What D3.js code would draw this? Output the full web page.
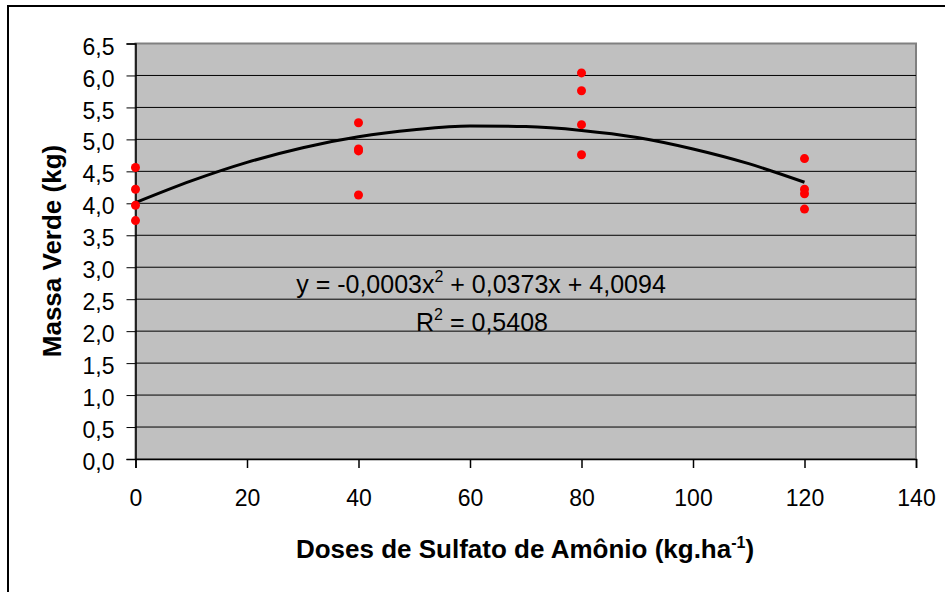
<!DOCTYPE html>
<html>
<head>
<meta charset="utf-8">
<script src="https://cdn.jsdelivr.net/npm/d3@7"></script>
<style>
  body { margin: 0; background: #fff; }
  text { font-family: "Liberation Sans", Arial, sans-serif; }
</style>
</head>
<body>
<svg id="chart" width="945" height="592"></svg>
<script>
// dados observados (doses x massa verde)
const doses = [0, 0, 0, 0, 40, 40, 40, 40, 80, 80, 80, 80, 120, 120, 120, 120];
const massa = [4.56, 4.22, 3.97, 3.73, 5.26, 4.85, 4.82, 4.13, 6.04, 5.76, 5.23, 4.76, 4.70, 4.22, 4.15, 3.91];

// linha de tendência
const trendX = [0, 10, 20, 30, 40, 50, 60, 70, 80, 90, 100, 110, 120];
const trendY = [4.01, 4.35, 4.64, 4.87, 5.04, 5.15, 5.21, 5.20, 5.14, 5.03, 4.85, 4.62, 4.33];

const xTicks = [0, 20, 40, 60, 80, 100, 120, 140];
const yTicks = [0, 0.5, 1, 1.5, 2, 2.5, 3, 3.5, 4, 4.5, 5, 5.5, 6, 6.5];

const svg = d3.select("#chart");
const fmt = d => d.toFixed(1).replace(".", ",");

const pLeft = 135.5, pRight = 916, pTop = 43.5, pBottom = 459;
const x = d3.scaleLinear().domain([0, 140]).range([pLeft, pRight]);
const y = d3.scaleLinear().domain([0, 6.5]).range([pBottom, pTop]);

// moldura externa
svg.append("rect")
    .attr("x", 8).attr("y", 6)
    .attr("width", 960).attr("height", 620)
    .attr("fill", "#fff")
    .attr("stroke", "#000")
    .attr("stroke-width", 2);

// área do gráfico
svg.append("rect")
    .attr("x", pLeft).attr("y", pTop)
    .attr("width", pRight - pLeft).attr("height", pBottom - pTop)
    .attr("fill", "#c0c0c0")
    .attr("stroke", "#808080")
    .attr("stroke-width", 2);

// grade
svg.append("g").selectAll("line")
    .data(yTicks.filter(d => d > 0 && d < 6.5))
    .enter().append("line")
    .attr("x1", pLeft).attr("x2", pRight)
    .attr("y1", d => y(d)).attr("y2", d => y(d))
    .attr("stroke", "#000").attr("stroke-width", 1);

// eixo y
const yAxis = svg.append("g")
    .attr("transform", `translate(${pLeft},0)`)
    .call(d3.axisLeft(y).tickValues(yTicks).tickFormat(fmt).tickSize(9).tickPadding(12));
yAxis.select(".domain").attr("stroke", "#000").attr("stroke-width", 1.5);
yAxis.selectAll("text").attr("font-size", 23).attr("fill", "#000").attr("dy", "0.46em");

// eixo x
const xAxis = svg.append("g")
    .attr("transform", `translate(0,${pBottom})`)
    .call(d3.axisBottom(x).tickValues(xTicks).tickSize(9).tickPadding(22));
xAxis.select(".domain").attr("stroke", "#000").attr("stroke-width", 1.5);
xAxis.selectAll("line").attr("stroke-width", 1.5);
xAxis.selectAll("text").attr("font-size", 23).attr("fill", "#000");

// tendência
svg.append("path")
    .datum(trendX.map((d, i) => [d, trendY[i]]))
    .attr("fill", "none")
    .attr("stroke", "#000")
    .attr("stroke-width", 3)
    .attr("d", d3.line().x(d => x(d[0])).y(d => y(d[1])).curve(d3.curveMonotoneX));

// pontos
svg.append("g").selectAll("circle")
    .data(doses.map((d, i) => [d, massa[i]]))
    .enter().append("circle")
    .attr("cx", d => x(d[0]))
    .attr("cy", d => y(d[1]))
    .attr("r", 4.5)
    .attr("fill", "#ff0000");

// equação
const eq = svg.append("text")
    .attr("x", 481).attr("y", 293)
    .attr("text-anchor", "middle")
    .attr("font-size", 25);
eq.append("tspan").text("y = -0,0003x");
eq.append("tspan").attr("dy", -11).attr("font-size", 16).text("2");
eq.append("tspan").attr("dy", 11).text(" + 0,0373x + 4,0094");

const r2 = svg.append("text")
    .attr("x", 482).attr("y", 331)
    .attr("text-anchor", "middle")
    .attr("font-size", 25);
r2.append("tspan").text("R");
r2.append("tspan").attr("dy", -11).attr("font-size", 16).text("2");
r2.append("tspan").attr("dy", 11).text(" = 0,5408");

// títulos dos eixos
const xt = svg.append("text")
    .attr("x", 525).attr("y", 558)
    .attr("text-anchor", "middle")
    .attr("font-size", 26)
    .attr("font-weight", "bold");
xt.append("tspan").text("Doses de Sulfato de Amônio (kg.ha");
xt.append("tspan").attr("dy", -10).attr("font-size", 16).text("-1");
xt.append("tspan").attr("dy", 10).text(")");

svg.append("text")
    .attr("transform", "translate(61,251) rotate(-90)")
    .attr("text-anchor", "middle")
    .attr("font-size", 26)
    .attr("font-weight", "bold")
    .text("Massa Verde (kg)");
</script>
</body>
</html>
